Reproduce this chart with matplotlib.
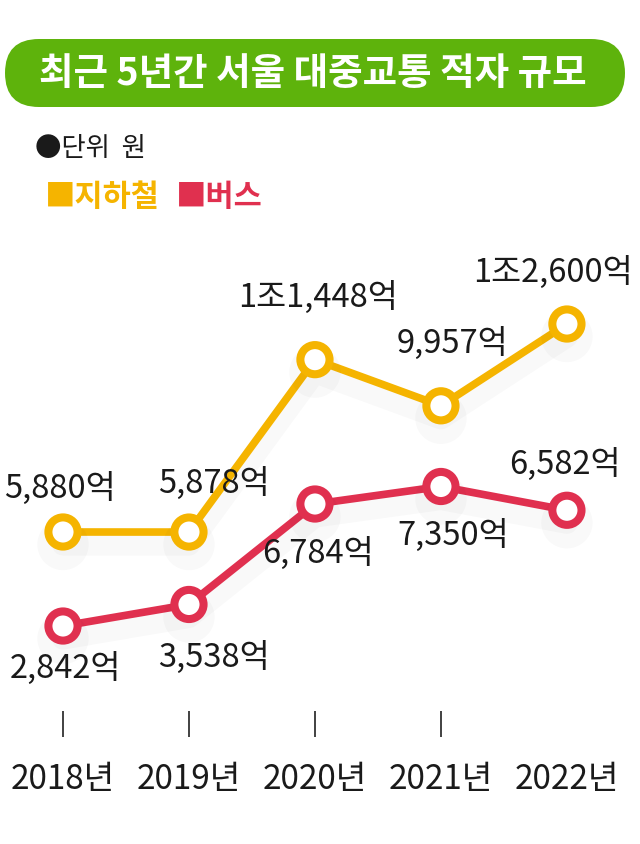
import matplotlib.pyplot as plt
import matplotlib.patheffects as pe
from matplotlib.patches import FancyBboxPatch
import numpy as np

# ----- Data -----
years = ["2018년", "2019년", "2020년", "2021년", "2022년"]
subway = [5880, 5878, 11448, 9957, 12600]  # 억 원
bus = [2842, 3538, 6784, 7350, 6582]
subway_labels = ["5,880억", "5,878억", "1조1,448억", "9,957억", "1조2,600억"]
bus_labels = ["2,842억", "3,538억", "6,784억", "7,350억", "6,582억"]

# ----- Style -----
plt.rcParams["font.family"] = ["Noto Sans CJK KR", "DejaVu Sans"]
YELLOW = "#F5B400"
RED = "#E0304F"
GREEN = "#5EB30C"
TEXT = "#1a1a1a"

# label offsets in pixels (dx, dy) relative to each point
subway_off = [(-3, 45), (25, 50), (3, 63), (11, 63), (-14, 53)]
bus_off = [(2, -41), (25, -52), (3, -48), (12, -48), (-2, 47)]

W, H = 640, 845
fig = plt.figure(figsize=(W / 100, H / 100), dpi=100)

# header drawn on a pixel-space overlay
hdr = fig.add_axes([0, 0, 1, 1])
hdr.set_xlim(0, W)
hdr.set_ylim(H, 0)
hdr.axis("off")
hdr.add_patch(FancyBboxPatch((5, 40), 620, 68,
                             boxstyle="round,pad=0,rounding_size=34",
                             facecolor=GREEN, edgecolor="none"))
hdr.text(313, 74, "최근 5년간 서울 대중교통 적자 규모", ha="center", va="center",
         color="white", fontsize=27, fontweight="bold")
hdr.text(35, 148, "●단위  원", ha="left", va="center", color=TEXT, fontsize=19,
         fontweight="light")
hdr.text(45, 197, "■지하철", ha="left", va="center", color=YELLOW,
         fontsize=22, fontweight="bold")
hdr.text(176, 197, "■버스", ha="left", va="center", color=RED,
         fontsize=22, fontweight="bold")

# main axes
ax = fig.add_axes([0, (H - 738) / H, 1, (738 - 230) / H])
x = np.arange(len(years))
shadow = [pe.SimpleLineShadow(offset=(0, -9), shadow_color="black", alpha=0.025, linewidth=16),
          pe.Normal()]
for vals, col in [(subway, YELLOW), (bus, RED)]:
    ax.plot(x, vals, color=col, linewidth=5.5, marker="o", markersize=21,
            markerfacecolor="white", markeredgecolor=col, markeredgewidth=5.8,
            solid_capstyle="round", path_effects=shadow, zorder=3)

for xi, v, lab, off in zip(x, subway, subway_labels, subway_off):
    ax.annotate(lab, (xi, v), xytext=off, textcoords="offset pixels",
                ha="center", va="center", fontsize=23.5, fontweight="light",
                color=TEXT, zorder=4)
for xi, v, lab, off in zip(x, bus, bus_labels, bus_off):
    ax.annotate(lab, (xi, v), xytext=off, textcoords="offset pixels",
                ha="center", va="center", fontsize=23.5, fontweight="light",
                color=TEXT, zorder=4)

ax.set_xlim(-0.5, 4.58)
ax.set_ylim(-744, 15670)
ax.xaxis.remove_overlapping_locs = False
ax.set_xticks(x)
ax.set_xticklabels(years, fontsize=24, fontweight="light", color=TEXT)
ax.set_xticks(x[:4], minor=True)
ax.tick_params(axis="x", which="major", length=0, pad=17)
ax.tick_params(axis="x", which="minor", direction="in", length=19, width=1.3, color="#333333")
ax.set_yticks([])
for s in ax.spines.values():
    s.set_visible(False)
ax.patch.set_alpha(0)

fig.savefig("out.png", dpi=100)
